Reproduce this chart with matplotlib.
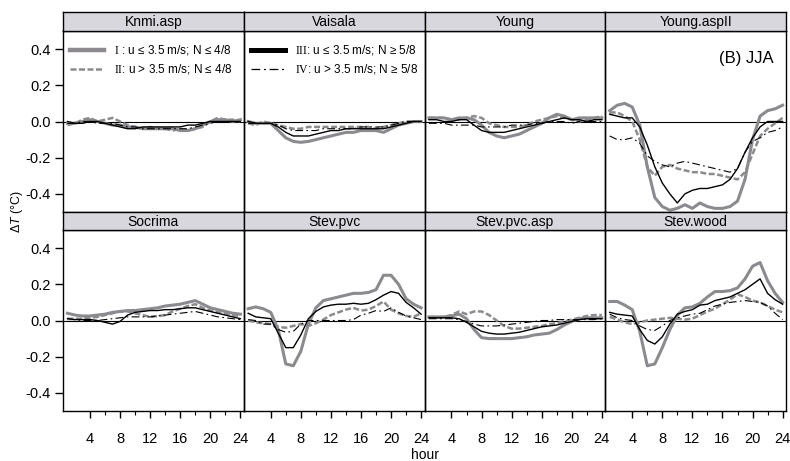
import matplotlib
matplotlib.use("Agg")
import matplotlib.pyplot as plt
from matplotlib.lines import Line2D
import numpy as np

plt.rcParams['font.family'] = ['Liberation Sans', 'DejaVu Sans']
plt.rcParams['mathtext.fontset'] = 'custom'
plt.rcParams['mathtext.rm'] = 'Liberation Serif'
plt.rcParams['mathtext.it'] = 'Liberation Sans:italic'
plt.rcParams['mathtext.bf'] = 'Liberation Sans:bold'

hours = np.arange(1, 25)

# Knmi.asp
knmi_I = [-0.01, -0.01, 0.0, 0.01, 0.0, -0.01, -0.02, -0.02, -0.03, -0.03, -0.04, -0.04,
          -0.04, -0.04, -0.04, -0.05, -0.05, -0.04, -0.02, 0.0, 0.01, 0.01, 0.0, 0.01]
knmi_II = [-0.02, -0.01, 0.01, 0.02, 0.0, 0.01, 0.02, 0.0, -0.02, -0.03, -0.04, -0.03,
           -0.04, -0.04, -0.05, -0.04, -0.05, -0.04, -0.03, 0.0, 0.02, 0.01, 0.01, 0.0]
knmi_III = [0.0, -0.01, -0.01, 0.0, 0.0, -0.01, -0.02, -0.03, -0.04, -0.04, -0.03, -0.03,
            -0.03, -0.03, -0.03, -0.03, -0.02, -0.02, -0.01, 0.0, 0.0, 0.0, 0.0, 0.0]
knmi_IV = [-0.01, -0.01, 0.0, 0.0, -0.01, -0.01, -0.01, -0.02, -0.03, -0.03, -0.04, -0.04,
           -0.04, -0.04, -0.04, -0.04, -0.04, -0.03, -0.02, -0.01, 0.0, 0.0, 0.0, 0.0]

# Vaisala
vais_I = [0.0, -0.01, -0.01, -0.01, -0.05, -0.09, -0.11, -0.115, -0.11, -0.10, -0.09, -0.08,
          -0.07, -0.06, -0.06, -0.05, -0.05, -0.05, -0.06, -0.04, -0.02, -0.01, 0.0, 0.0]
vais_II = [-0.01, -0.02, 0.0, -0.01, -0.02, -0.03, -0.04, -0.04, -0.03, -0.03, -0.03, -0.03,
           -0.03, -0.03, -0.03, -0.03, -0.03, -0.04, -0.03, -0.02, -0.01, 0.0, 0.0, 0.0]
vais_III = [0.0, -0.01, -0.01, -0.01, -0.03, -0.06, -0.08, -0.08, -0.08, -0.07, -0.06, -0.05,
            -0.05, -0.04, -0.04, -0.04, -0.04, -0.04, -0.04, -0.03, -0.02, -0.01, 0.0, 0.0]
vais_IV = [-0.01, -0.01, -0.01, -0.01, -0.02, -0.04, -0.05, -0.05, -0.05, -0.05, -0.04, -0.04,
           -0.04, -0.04, -0.04, -0.03, -0.03, -0.03, -0.03, -0.02, -0.01, 0.0, 0.0, 0.0]

# Young
young_I = [0.02, 0.02, 0.02, 0.01, 0.02, 0.02, 0.01, -0.02, -0.06, -0.08, -0.09, -0.08,
           -0.07, -0.05, -0.03, -0.01, 0.02, 0.04, 0.03, 0.01, 0.02, 0.02, 0.02, 0.02]
young_II = [0.02, 0.02, 0.02, 0.01, 0.01, 0.02, 0.03, 0.02, -0.01, -0.02, -0.03, -0.03,
            -0.03, -0.02, 0.0, 0.01, 0.02, 0.03, 0.02, 0.01, 0.0, 0.01, 0.02, 0.03]
young_III = [0.01, 0.01, 0.0, 0.0, 0.01, 0.01, -0.02, -0.05, -0.06, -0.06, -0.06, -0.05,
             -0.04, -0.03, -0.02, -0.01, 0.0, 0.01, 0.02, 0.01, 0.01, 0.0, 0.01, 0.01]
young_IV = [-0.01, -0.01, -0.01, -0.02, -0.02, -0.02, -0.02, -0.03, -0.03, -0.03, -0.03, -0.02,
            -0.02, -0.02, -0.01, -0.01, 0.0, 0.0, 0.0, -0.01, 0.0, 0.0, 0.0, 0.0]

# Young.aspII
yasp_I = [0.06, 0.09, 0.10, 0.08, -0.02, -0.25, -0.42, -0.47, -0.49, -0.48, -0.46, -0.48,
          -0.45, -0.47, -0.48, -0.48, -0.47, -0.44, -0.32, -0.10, 0.03, 0.06, 0.07, 0.09]
yasp_II = [0.05, 0.05, 0.03, 0.0, -0.10, -0.25, -0.30, -0.25, -0.24, -0.26, -0.27, -0.28,
           -0.28, -0.29, -0.29, -0.30, -0.31, -0.32, -0.28, -0.18, -0.08, -0.04, -0.01, 0.02]
yasp_III = [0.04, 0.03, 0.02, 0.02, -0.03, -0.13, -0.25, -0.34, -0.40, -0.45, -0.40, -0.38,
            -0.37, -0.37, -0.36, -0.35, -0.32, -0.26, -0.17, -0.09, -0.03, 0.0, 0.0, 0.0]
yasp_IV = [-0.08, -0.10, -0.10, -0.09, -0.12, -0.19, -0.22, -0.24, -0.25, -0.23, -0.22, -0.23,
           -0.24, -0.25, -0.26, -0.27, -0.28, -0.26, -0.17, -0.11, -0.09, -0.06, -0.05, -0.03]

# Socrima
socr_I = [0.04, 0.03, 0.025, 0.025, 0.03, 0.035, 0.045, 0.05, 0.055, 0.055, 0.06, 0.065,
          0.07, 0.08, 0.085, 0.09, 0.1, 0.11, 0.09, 0.07, 0.06, 0.05, 0.04, 0.035]
socr_II = [0.01, 0.01, 0.01, 0.015, 0.02, 0.03, 0.04, 0.05, 0.05, 0.04, 0.03, 0.02,
           0.025, 0.03, 0.05, 0.065, 0.08, 0.09, 0.07, 0.055, 0.045, 0.04, 0.03, 0.025]
socr_III = [0.01, 0.005, 0.005, 0.005, 0.0, -0.01, -0.02, -0.005, 0.03, 0.045, 0.05, 0.055,
            0.055, 0.06, 0.06, 0.065, 0.07, 0.07, 0.06, 0.05, 0.04, 0.03, 0.02, 0.01]
socr_IV = [-0.005, -0.005, 0.0, 0.0, 0.0, 0.005, 0.01, 0.015, 0.02, 0.02, 0.02, 0.02,
           0.025, 0.03, 0.035, 0.04, 0.045, 0.05, 0.04, 0.03, 0.02, 0.015, 0.01, 0.005]

# Stev.pvc
spvc_I = [0.065, 0.075, 0.065, 0.045, -0.05, -0.24, -0.25, -0.17, -0.02, 0.07, 0.11, 0.12,
          0.13, 0.14, 0.15, 0.15, 0.155, 0.17, 0.25, 0.25, 0.2, 0.12, 0.09, 0.07]
spvc_II = [0.0, -0.01, -0.015, -0.02, -0.035, -0.04, -0.03, -0.02, -0.03, -0.015, 0.005, 0.03,
           0.045, 0.06, 0.07, 0.055, 0.06, 0.08, 0.105, 0.06, 0.04, 0.025, 0.02, 0.04]
spvc_III = [0.04, 0.02, 0.015, 0.01, -0.07, -0.15, -0.15, -0.08, 0.01, 0.05, 0.075, 0.085,
            0.09, 0.09, 0.095, 0.09, 0.095, 0.115, 0.14, 0.16, 0.15, 0.1, 0.07, 0.035]
spvc_IV = [0.005, 0.0, -0.02, -0.02, -0.05, -0.065, -0.06, -0.02, 0.0, 0.0, 0.0, 0.0,
           0.0, 0.0, 0.005, 0.03, 0.04, 0.055, 0.05, 0.07, 0.045, 0.025, 0.015, 0.005]

# Stev.pvc.asp
sasp_I = [0.02, 0.02, 0.02, 0.025, 0.035, 0.01, -0.05, -0.095, -0.1, -0.1, -0.1, -0.1,
          -0.095, -0.09, -0.08, -0.075, -0.07, -0.05, -0.025, -0.005, 0.01, 0.015, 0.015, 0.015]
sasp_II = [0.015, 0.015, 0.02, 0.03, 0.05, 0.035, 0.05, 0.05, 0.03, 0.0, -0.03, -0.045,
           -0.045, -0.04, -0.035, -0.03, -0.02, -0.015, -0.005, 0.005, 0.015, 0.025, 0.03, 0.03]
sasp_III = [0.015, 0.015, 0.015, 0.015, 0.01, -0.01, -0.035, -0.06, -0.07, -0.075, -0.075, -0.07,
            -0.065, -0.055, -0.045, -0.035, -0.03, -0.025, -0.015, -0.005, 0.005, 0.01, 0.01, 0.01]
sasp_IV = [0.01, 0.01, 0.01, 0.01, 0.005, -0.005, -0.02, -0.03, -0.03, -0.03, -0.025, -0.02,
           -0.015, -0.01, -0.005, 0.0, 0.0, 0.005, 0.005, 0.005, 0.005, 0.005, 0.005, 0.01]

# Stev.wood
swood_I = [0.105, 0.105, 0.085, 0.06, -0.06, -0.25, -0.24, -0.15, -0.05, 0.03, 0.07, 0.075,
           0.095, 0.13, 0.16, 0.16, 0.165, 0.18, 0.23, 0.3, 0.32, 0.22, 0.15, 0.1]
swood_II = [0.02, 0.005, -0.01, -0.02, -0.01, 0.0, 0.005, 0.01, 0.015, 0.01, 0.005, 0.01,
            0.03, 0.05, 0.065, 0.09, 0.115, 0.145, 0.13, 0.11, 0.1, 0.08, 0.06, 0.045]
swood_III = [0.045, 0.035, 0.03, 0.025, -0.05, -0.11, -0.13, -0.09, -0.02, 0.035, 0.05, 0.06,
             0.085, 0.09, 0.11, 0.12, 0.13, 0.15, 0.17, 0.2, 0.23, 0.15, 0.115, 0.09]
swood_IV = [0.035, 0.015, 0.005, 0.0, -0.03, -0.05, -0.055, -0.03, 0.0, 0.015, 0.025, 0.035,
            0.04, 0.06, 0.08, 0.09, 0.1, 0.105, 0.11, 0.105, 0.1, 0.08, 0.04, 0.005]

titles = ["Knmi.asp", "Vaisala", "Young", "Young.aspII",
          "Socrima", "Stev.pvc", "Stev.pvc.asp", "Stev.wood"]
panels = [
    (knmi_I, knmi_II, knmi_III, knmi_IV),
    (vais_I, vais_II, vais_III, vais_IV),
    (young_I, young_II, young_III, young_IV),
    (yasp_I, yasp_II, yasp_III, yasp_IV),
    (socr_I, socr_II, socr_III, socr_IV),
    (spvc_I, spvc_II, spvc_III, spvc_IV),
    (sasp_I, sasp_II, sasp_III, sasp_IV),
    (swood_I, swood_II, swood_III, swood_IV),
]
labels = [r"$\mathrm{I}$ : u ≤ 3.5 m/s; N ≤ 4/8",
          r"$\mathrm{II}$: u > 3.5 m/s; N ≤ 4/8",
          r"$\mathrm{III}$: u ≤ 3.5 m/s; N ≥ 5/8",
          r"$\mathrm{IV}$: u > 3.5 m/s; N ≥ 5/8"]

gray = '#8c8a8e'
styles = [
    dict(color=gray, lw=2.2, ls='-'),
    dict(color=gray, lw=1.8, ls=(0, (2.4, 1.0))),
    dict(color='black', lw=1.0, ls='-'),
    dict(color='black', lw=0.8, ls=(0, (7, 3, 1.5, 3))),
]
strip_color = '#d9d7de'

W, H = 790, 461
fig = plt.figure(figsize=(W / 100, H / 100), dpi=100)

x0, x1 = 63, 786
pw = (x1 - x0) / 4
rows = [(31, 212, 12), (230, 411, 212)]  # panel top, panel bottom, strip top (pixels)

axes = []
for i, (title, series) in enumerate(zip(titles, panels)):
    r, c = divmod(i, 4)
    ptop, pbot, stop = rows[r]
    left = (x0 + c * pw) / W
    ax = fig.add_axes([left, 1 - pbot / H, pw / W, (pbot - ptop) / H])
    ax.patch.set_visible(False)
    sax = fig.add_axes([left, 1 - ptop / H, pw / W, (ptop - stop) / H])
    sax.set_facecolor(strip_color)
    sax.set_xticks([])
    sax.set_yticks([])
    for s in sax.spines.values():
        s.set_linewidth(1.0)
    sax.text(0.5, 0.45, title, transform=sax.transAxes, ha='center', va='center', fontsize=10)

    ax.axhline(0, color='black', lw=0.8, zorder=1)
    for y, st in zip(series, styles):
        ax.plot(hours, y, zorder=2, **st)
    ax.set_xlim(0.41, 24.45)
    ax.set_ylim(-0.5, 0.5)
    for s in ax.spines.values():
        s.set_linewidth(1.0)
    ax.set_yticks([-0.4, -0.2, 0.0, 0.2, 0.4])
    ax.set_xticks([4, 8, 12, 16, 20, 24])
    ax.set_xticks([6, 10, 14, 18, 22], minor=True)
    ax.tick_params(axis='x', which='major', length=5, width=1.0, pad=10, labelsize=10.5)
    ax.tick_params(axis='x', which='minor', length=3, width=0.8)
    ax.tick_params(axis='y', length=6, width=1.0, pad=3, labelsize=10.5)
    if r == 0:
        ax.tick_params(axis='x', which='both', bottom=False, labelbottom=False)
    if c > 0:
        ax.tick_params(axis='y', left=False, labelleft=False)
    else:
        ax.set_yticklabels(['-0.4', '-0.2', '0.0', '0.2', '0.4'])
    axes.append(ax)

# legends
def handles(idx, lws):
    return [Line2D([], [], color=styles[k]['color'], ls=styles[k]['ls'], lw=w)
            for k, w in zip(idx, lws)]

leg_kw = dict(loc='upper left', bbox_to_anchor=(0.0, 0.972), frameon=False, fontsize=8.5,
              handlelength=2.9, handletextpad=0.8, labelspacing=0.45, borderaxespad=0.15,
              borderpad=0.45)
leg0 = axes[0].legend(handles([0, 1], [3.2, 1.8]), labels[:2], **leg_kw)
leg1 = axes[1].legend(handles([2, 3], [3.6, 0.9]), labels[2:], **leg_kw)
for leg in (leg0, leg1):
    leg.set_zorder(10)

axes[3].text(0.93, 0.85, "(B) JJA", transform=axes[3].transAxes, ha='right', va='center',
             fontsize=12)

fig.text(x0 / W + 2 * pw / W, 1 - 455 / H, "hour", ha='center', va='center', fontsize=10)
fig.text(17 / W, 1 - 211 / H, r"Δ$\mathit{T}$ (°C)", rotation=90, ha='center', va='center',
         fontsize=9)

fig.savefig("out.png", dpi=100)
